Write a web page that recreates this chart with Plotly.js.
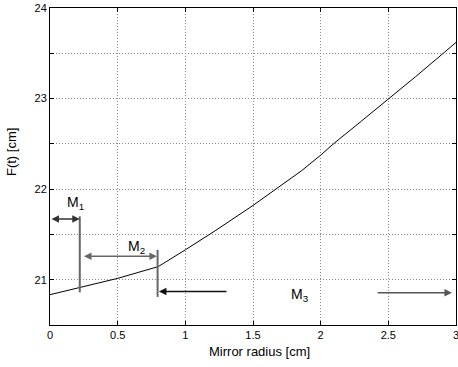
<!DOCTYPE html>
<html>
<head>
<meta charset="utf-8">
<script src="https://cdn.plot.ly/plotly-3.0.1.min.js"></script>
<style>html,body{margin:0;padding:0;background:#fff;}#chart{width:458px;height:367px;}</style>
</head>
<body>
<div id="chart"></div>
<script>
// Curve data
const radius = [0, 0.1, 0.22, 0.35, 0.5, 0.65, 0.8, 1.0, 1.22, 1.5, 1.67, 1.86, 2.0, 2.094, 2.3, 2.507, 2.7, 2.906, 3.0];
const focal  = [20.835, 20.87, 20.92, 20.96, 21.015, 21.08, 21.145, 21.33, 21.54, 21.82, 22.0, 22.205, 22.375, 22.5, 22.75, 23.0, 23.24, 23.5, 23.62];

// Tick values
const xTicks = [0, 0.5, 1, 1.5, 2, 2.5];
const xTickText = ['0', '0.5', '1', '1.5', '2', '2.5'];
const xLastTick = 3;
const xLastTickText = '3';
const yTicks = [21, 22, 23, 24];
const yTickText = ['21', '22', '23', '24'];
const yMinorTicks = [20.5, 21.5, 22.5, 23.5];

// Region markers (data coordinates)
const regionLabels = ['M<sub>1</sub>', 'M<sub>2</sub>', 'M<sub>3</sub>'];
const labelX = [0.185, 0.64, 1.85];
const labelY = [21.85, 21.36, 20.835];
const boundaryX = [0.22, 0.795];
const boundaryY0 = [20.86, 20.81];
const boundaryY1 = [21.70, 21.33];
// arrows: from, to, y, double-headed
const arrowFrom = [0.0, 0.24, 1.315, 2.41];
const arrowTo   = [0.22, 0.79, 0.805, 2.97];
const arrowY    = [21.67, 21.26, 20.87, 20.857];
const arrowBoth = [true, true, false, false];
const arrowColor = ['#333', '#666', '#111', '#555'];

const FONT = 'Liberation Sans, Arial, sans-serif';

const trace = {
  x: radius, y: focal, type: 'scatter', mode: 'lines',
  line: {color: '#000', width: 1}, hoverinfo: 'skip'
};

const shapes = boundaryX.map((bx, i) => ({
  type: 'line', xref: 'x', yref: 'y',
  x0: bx, x1: bx, y0: boundaryY0[i], y1: boundaryY1[i],
  line: {color: '#666', width: 2}
}));

const annotations = [];
arrowFrom.forEach((fx, i) => {
  annotations.push({
    x: arrowTo[i], y: arrowY[i], ax: fx, ay: arrowY[i],
    xref: 'x', yref: 'y', axref: 'x', ayref: 'y',
    text: '', showarrow: true,
    arrowhead: 2, startarrowhead: 2, arrowsize: 1, startarrowsize: 1,
    arrowside: arrowBoth[i] ? 'end+start' : 'end',
    arrowwidth: 1.5, arrowcolor: arrowColor[i], standoff: 0, startstandoff: 0
  });
});
regionLabels.forEach((t, i) => {
  annotations.push({
    x: labelX[i], y: labelY[i], xref: 'x', yref: 'y', text: t, showarrow: false,
    font: {family: FONT, size: 14, color: '#000'}
  });
});
annotations.push({
  x: xLastTick, y: 0, xref: 'x', yref: 'paper', text: xLastTickText,
  showarrow: false, xanchor: 'center', yanchor: 'top', yshift: -2,
  font: {family: FONT, size: 11, color: '#000'}
});
annotations.push({
  x: 0.517, y: -0.085, xref: 'paper', yref: 'paper', text: 'Mirror radius [cm]',
  showarrow: false, xanchor: 'center', yanchor: 'middle',
  font: {family: FONT, size: 13, color: '#000'}
});
annotations.push({
  x: -0.095, y: 0.547, xref: 'paper', yref: 'paper', text: 'F(t) [cm]', textangle: -90,
  showarrow: false, xanchor: 'center', yanchor: 'middle',
  font: {family: FONT, size: 13, color: '#000'}
});

const gridStyle = {showgrid: true, gridcolor: '#8a8a8a', gridwidth: 1, griddash: '1px,2px'};
const axisCommon = Object.assign({
  showline: true, linecolor: '#000', linewidth: 1, mirror: 'ticks',
  ticks: 'inside', ticklen: 4, tickcolor: '#000', tickwidth: 1,
  zeroline: false, tickmode: 'array',
  tickfont: {family: FONT, size: 11, color: '#000'}
}, gridStyle);

const layout = {
  width: 458, height: 367,
  margin: {l: 50, r: 2, t: 8, b: 42},
  paper_bgcolor: '#fff', plot_bgcolor: '#fff',
  showlegend: false,
  xaxis: Object.assign({}, axisCommon, {
    range: [0, 3], tickvals: xTicks, ticktext: xTickText,
    minor: Object.assign({tickmode: 'array', tickvals: [xLastTick], ticks: 'inside', ticklen: 4, tickcolor: '#000'}, gridStyle)
  }),
  yaxis: Object.assign({}, axisCommon, {
    range: [20.5, 24], tickvals: yTicks, ticktext: yTickText,
    minor: Object.assign({tickmode: 'array', tickvals: yMinorTicks, ticks: 'inside', ticklen: 4, tickcolor: '#000'}, gridStyle)
  }),
  shapes: shapes,
  annotations: annotations
};

Plotly.newPlot('chart', [trace], layout, {staticPlot: true, displayModeBar: false});
</script>
</body>
</html>
